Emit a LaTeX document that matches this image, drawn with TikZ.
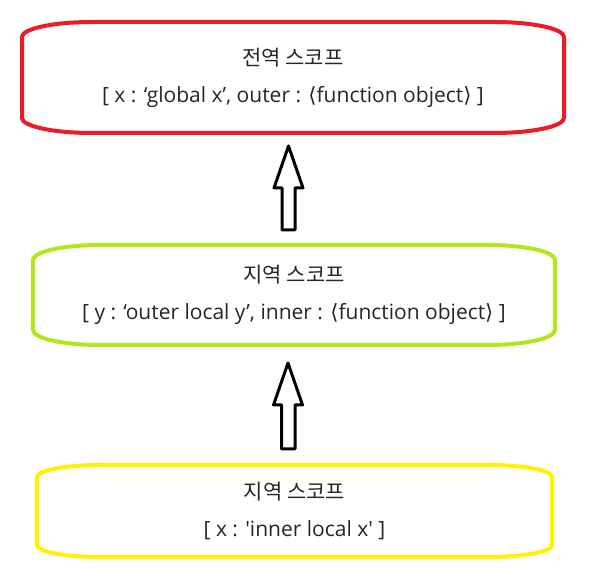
\documentclass[tikz,border=0pt]{standalone}
\usepackage{fontspec}
\newfontfamily\lat{Open Sans}
\newfontfamily\kr{Noto Sans CJK KR}
\newfontfamily\sym{DejaVu Sans}
\definecolor{scopered}{RGB}{237,28,36}
\definecolor{scopegreen}{RGB}{181,230,29}
\definecolor{scopeyellow}{RGB}{255,242,0}
\tikzset{
  scopebox/.style={inner sep=0pt, outer sep=0pt, align=center, text=black!85,
    font=\lat\fontsize{21}{37}\selectfont},
  hollow/.style={draw=black, fill=white, line width=3pt, line join=round}
}

\begin{document}
\begin{tikzpicture}[x=1pt,y=1pt]
\useasboundingbox (0,0) rectangle (595,577);
\node[scopebox,minimum width=542pt,minimum height=111pt] (global) at (293,499.5)
  {{\kr 전역 스코프}\\{[} x : ‘global x’, outer : {\sym⟨}function object{\sym⟩} ]};
\node[scopebox,minimum width=522pt,minimum height=100pt] (outer) at (294,282)
  {{\kr 지역 스코프}\\{[} y : ‘outer local y’, inner : {\sym⟨}function object{\sym⟩} ]};
\node[scopebox,minimum width=515pt,minimum height=92pt] (inner) at (294.5,66)
  {{\kr 지역 스코프}\\{[} x : 'inner local x' ]};
% barrel outlines
\foreach \n/\c/\rx/\ry in {global/scopered/70/15, outer/scopegreen/67/15, inner/scopeyellow/63/12}
  \draw[\c, line width=4pt] ([yshift=-\ry pt]\n.north west) -- ([yshift=\ry pt]\n.south west)
    arc[start angle=180, end angle=270, x radius=\rx pt, y radius=\ry pt]
    -- ([xshift=-\rx pt]\n.south east)
    arc[start angle=270, end angle=360, x radius=\rx pt, y radius=\ry pt]
    -- ([yshift=-\ry pt]\n.north east)
    arc[start angle=0, end angle=90, x radius=\rx pt, y radius=\ry pt]
    -- ([xshift=\rx pt]\n.north west)
    arc[start angle=90, end angle=180, x radius=\rx pt, y radius=\ry pt] -- cycle;
% block arrows
\coordinate (t1) at ([xshift=-4.5pt,yshift=-13pt]global.south);
\coordinate (b1) at ([xshift=-5.5pt,yshift=15pt]outer.north);
\coordinate (t2) at ([xshift=-6pt,yshift=-18pt]outer.south);
\coordinate (b2) at ([xshift=-6pt,yshift=16pt]inner.north);
\foreach \t/\b in {t1/b1, t2/b2}
  \draw[hollow] (\t) -- ++(-14.5,-42) -- ++(8,0) |- ([xshift=6.5pt]\b) |- ([xshift=14.5pt,yshift=-42pt]\t) -- cycle;
\end{tikzpicture}
\end{document}
